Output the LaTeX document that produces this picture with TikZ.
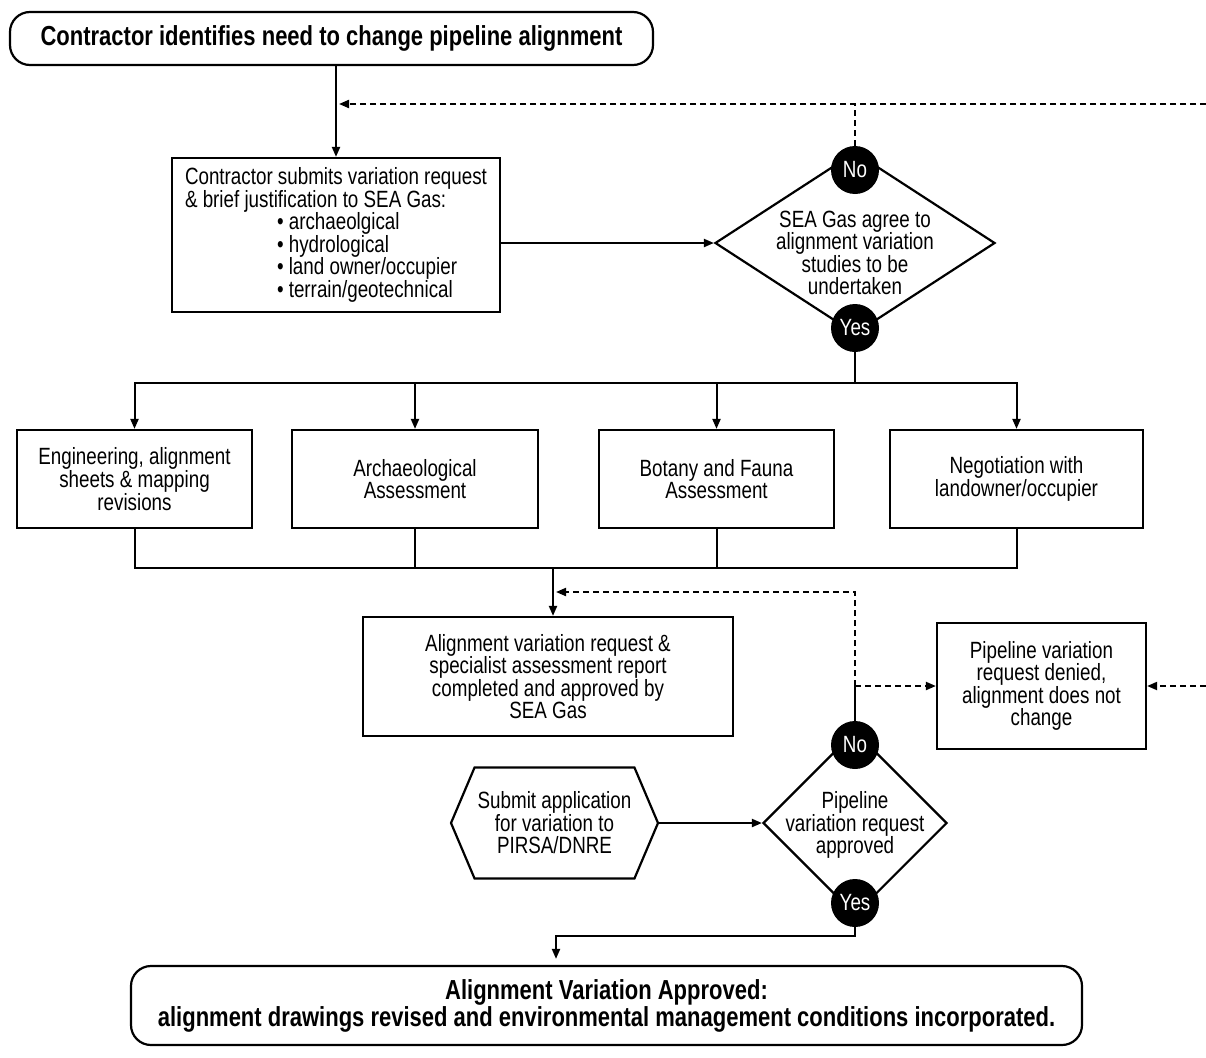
\documentclass[tikz,border=0pt]{standalone}
\usepackage{fontspec}
\setmainfont{Liberation Sans}[FakeStretch=0.8]
\usetikzlibrary{arrows.meta, positioning, shapes.geometric, shapes.symbols}

\begin{document}
\begin{tikzpicture}[x=1pt, y=-1pt,
    every node/.style={font=\fontsize{23.5}{22.5}\selectfont},
    box/.style={draw, line width=2.2pt, align=center, inner sep=4pt},
    roundbox/.style={box, rounded corners=20pt, font=\fontsize{27.5}{27}\selectfont\bfseries},
    decision/.style={draw, diamond, line width=2.2pt, inner sep=0pt},
    answer/.style={circle, fill=black, text=white, inner sep=0pt, minimum size=48pt},
    line/.style={line width=2pt, line cap=rect},
    arr/.style={line, -{Triangle[length=10pt, width=8pt]}},
    dashline/.style={line width=2pt, dash pattern=on 6pt off 4pt},
    dasharr/.style={dashline, -{Triangle[length=10pt, width=8pt]}}]
    \useasboundingbox (0,0) rectangle (1206,1057);

    % start and request
    \node[roundbox, minimum width=643pt, minimum height=53pt] (need) at (331.5,38.5)
          {Contractor identifies need to change pipeline alignment};
    \node[box, minimum width=328pt, minimum height=154pt, align=left] (submitreq) at (336,235)
          {Contractor submits variation request\\
           \& brief justification to SEA Gas:\\
           \hspace*{92pt}\textbullet\ archaeolgical\\
           \hspace*{92pt}\textbullet\ hydrological\\
           \hspace*{92pt}\textbullet\ land owner/occupier\\
           \hspace*{92pt}\textbullet\ terrain/geotechnical};

    % first decision
    \node[decision, minimum width=280pt, minimum height=182pt] (agree) at (855,243) {};
    \node[align=center] (agreetxt) at (855,253)
          {SEA Gas agree to\\alignment variation\\studies to be\\undertaken};
    \node[answer] (no1)  at (855,170) {No};
    \node[answer] (yes1) at (855,328) {Yes};

    % studies
    \node[box, minimum width=235pt, minimum height=98pt, font=\fontsize{23.5}{20}\selectfont] (eng) at (134.5,479)
          {Engineering, alignment\\sheets \& mapping\\revisions};
    \node[box, minimum width=246pt, minimum height=98pt] (arch)  at (415,479)    {Archaeological\\Assessment};
    \node[box, minimum width=235pt, minimum height=98pt] (fauna) at (716.5,479)  {Botany and Fauna\\Assessment};
    \node[box, minimum width=253pt, minimum height=98pt] (owner) at (1016.5,479) {Negotiation with\\landowner/occupier};

    \node[box, minimum width=370pt, minimum height=119pt] (report) at (548,676.5)
          {Alignment variation request \&\\specialist assessment report\\completed and approved by\\SEA Gas};
    \node[box, minimum width=209pt, minimum height=126pt] (denied) at (1041.5,686)
          {Pipeline variation\\request denied,\\alignment does not\\change};

    % application and second decision
    \node[draw, signal, signal to=west and east, signal pointer angle=134, line width=2.2pt,
          minimum width=207pt, minimum height=111pt, align=center, inner sep=2pt] (apply) at (554.5,823)
          {Submit application\\for variation to\\PIRSA/DNRE};
    \node[decision, minimum width=184pt, minimum height=184pt] (approved) at (855,823) {};
    \node[align=center] (approvedtxt) at (855,825) {Pipeline\\variation request\\approved};
    \node[answer] (no2)  at (855,745) {No};
    \node[answer] (yes2) at (855,903) {Yes};

    \node[roundbox, minimum width=951pt, minimum height=79pt] (final) at (606.5,1005.5)
          {Alignment Variation Approved:\\alignment drawings revised and environmental management conditions incorporated.};

    \coordinate (loopin) at (1206,104);
    \coordinate (split)  at (855,383);
    \coordinate (merge)  at (553,568);
    \coordinate (ret)    at (855,592);
    \coordinate (fork)   at (855,686);
    \coordinate (denyin) at (1206,686);
    \coordinate (drop)   at (556,936);

    % connectors
    \draw[arr] (need.south -| submitreq.north) -- (submitreq.north);
    \draw[dasharr, shorten >=3pt] (loopin) -- (loopin -| submitreq.north);
    \draw[dashline] (no1.north) -- (no1.north |- loopin);
    \draw[arr] (submitreq.east |- agree.west) -- (agree.west);

    \draw[line] (yes1.south) -- (split);
    \draw[line] (split -| eng.north) -- (split -| owner.north);
    \foreach \b in {eng, arch, fauna, owner}
      \draw[arr] (split -| \b.north) -- (\b.north);
    \foreach \b in {eng, arch, fauna, owner}
      \draw[line] (\b.south) -- (\b.south |- merge);
    \draw[line] (merge -| eng.south) -- (merge -| owner.south);
    \draw[arr] (merge) -- (merge |- report.north);

    \draw[dasharr, shorten >=3pt] (fork) -- (ret) -- (ret -| merge);
    \draw[line] (no2.north) -- (fork);
    \draw[dasharr] (fork) -- (fork -| denied.west);
    \draw[dasharr] (denyin) -- (denyin -| denied.east);
    \draw[arr] (apply.east) -- (approved.west);
    \draw[arr, shorten >=6pt] (yes2.south) |- (drop) -- (drop |- final.north);
\end{tikzpicture}
\end{document}
